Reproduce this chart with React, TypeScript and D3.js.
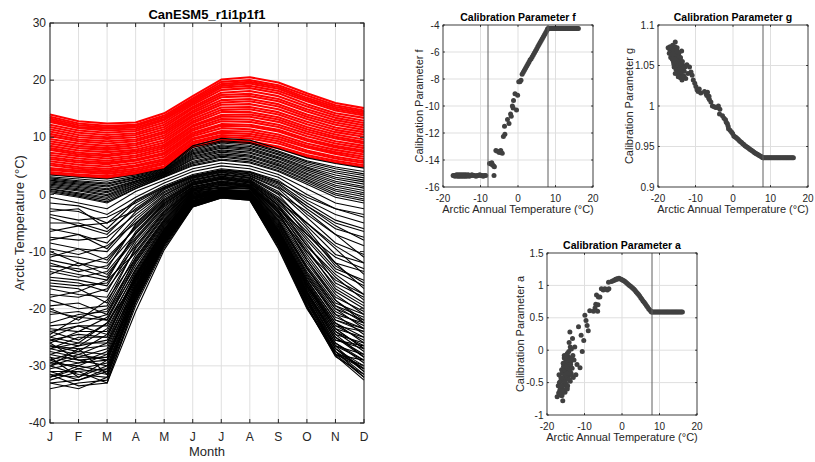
import React from "react";
import * as d3 from "d3";

// month axis of the left panel
const months = ["J", "F", "M", "A", "M", "J", "J", "A", "S", "O", "N", "D"];
const tempTicks = [-40, -30, -20, -10, 0, 10, 20, 30];
const annualTicks = [-20, -10, 0, 10, 20];

// monthly climatologies, warm members (red)
const redLines: number[][] = [
  [3.6, 3.2, 2.9, 3.6, 4.6, 8.3, 9.3, 9.0, 8.1, 6.6, 5.6, 4.8],
  [3.9, 3.5, 3.2, 3.9, 4.9, 8.6, 9.6, 9.3, 8.4, 6.9, 5.9, 5.1],
  [4.3, 3.9, 3.6, 4.2, 5.3, 8.9, 10.1, 9.8, 8.9, 7.4, 6.3, 5.5],
  [4.6, 4.2, 3.9, 4.5, 5.6, 9.2, 10.4, 10.2, 9.3, 7.7, 6.6, 5.8],
  [5.1, 4.5, 4.2, 4.9, 5.9, 9.6, 10.8, 10.6, 9.7, 8.2, 7.1, 6.2],
  [5.4, 4.8, 4.5, 5.1, 6.2, 9.8, 11.1, 11.0, 10.1, 8.5, 7.4, 6.6],
  [5.8, 5.2, 4.9, 5.5, 6.6, 10.2, 11.6, 11.4, 10.5, 8.9, 7.8, 7.0],
  [6.2, 5.6, 5.3, 5.9, 7.0, 10.5, 12.0, 11.9, 11.0, 9.4, 8.2, 7.4],
  [6.5, 5.9, 5.6, 6.1, 7.3, 10.8, 12.3, 12.2, 11.3, 9.7, 8.5, 7.7],
  [6.9, 6.3, 5.9, 6.5, 7.7, 11.2, 12.8, 12.7, 11.8, 10.2, 8.9, 8.1],
  [7.3, 6.7, 6.3, 6.8, 8.1, 11.5, 13.2, 13.1, 12.2, 10.6, 9.3, 8.5],
  [7.8, 7.0, 6.7, 7.2, 8.4, 11.9, 13.6, 13.6, 12.7, 11.0, 9.8, 8.9],
  [8.1, 7.3, 7.0, 7.5, 8.7, 12.1, 13.9, 14.0, 13.1, 11.4, 10.1, 9.2],
  [8.5, 7.7, 7.4, 7.8, 9.1, 12.5, 14.4, 14.4, 13.5, 11.8, 10.5, 9.6],
  [8.9, 8.1, 7.8, 8.2, 9.5, 12.8, 14.8, 14.9, 14.0, 12.3, 10.9, 10.1],
  [9.3, 8.5, 8.1, 8.6, 9.9, 13.2, 15.2, 15.3, 14.4, 12.7, 11.3, 10.5],
  [9.7, 8.9, 8.5, 8.9, 10.3, 13.6, 15.7, 15.8, 14.9, 13.2, 11.7, 10.9],
  [10.2, 9.3, 8.9, 9.3, 10.7, 13.9, 16.1, 16.3, 15.4, 13.6, 12.2, 11.3],
  [10.6, 9.6, 9.3, 9.6, 11.0, 14.3, 16.5, 16.7, 15.8, 14.0, 12.6, 11.7],
  [11.0, 10.0, 9.7, 10.0, 11.4, 14.6, 17.0, 17.2, 16.3, 14.5, 13.0, 12.1],
  [11.4, 10.4, 10.0, 10.4, 11.8, 15.0, 17.4, 17.6, 16.7, 14.9, 13.4, 12.5],
  [11.8, 10.8, 10.4, 10.7, 12.2, 15.3, 17.8, 18.1, 17.2, 15.4, 13.8, 12.9],
  [12.2, 11.2, 10.8, 11.1, 12.6, 15.7, 18.3, 18.6, 17.7, 15.8, 14.2, 13.4],
  [12.7, 11.6, 11.2, 11.4, 13.0, 16.0, 18.7, 19.0, 18.1, 16.3, 14.7, 13.8],
  [13.0, 11.8, 11.5, 11.7, 13.2, 16.3, 19.0, 19.4, 18.5, 16.6, 15.0, 14.1],
  [13.3, 12.1, 11.7, 12.0, 13.5, 16.6, 19.3, 19.7, 18.8, 16.9, 15.3, 14.4],
  [13.6, 12.4, 12.0, 12.2, 13.8, 16.8, 19.7, 20.0, 19.1, 17.3, 15.6, 14.7],
  [14.0, 12.8, 12.4, 12.6, 14.2, 17.2, 20.1, 20.5, 19.6, 17.7, 16.0, 15.1],
];

// black members just below the red band
const blackUpper: number[][] = [
  [0.3, -0.5, -1.5, 1.0, 3.0, 5.0, 6.0, 5.5, 4.0, 1.8, -0.5, -1.5],
  [0.5, -0.3, -1.3, 1.1, 3.1, 5.2, 6.2, 5.7, 4.2, 2.1, -0.1, -1.1],
  [0.7, -0.1, -1.0, 1.3, 3.2, 5.4, 6.5, 6.0, 4.5, 2.4, 0.2, -0.8],
  [0.9, 0.1, -0.7, 1.4, 3.3, 5.6, 6.7, 6.2, 4.7, 2.6, 0.6, -0.4],
  [1.0, 0.3, -0.5, 1.6, 3.4, 5.8, 6.9, 6.5, 5.0, 2.9, 0.9, 0.0],
  [1.2, 0.6, -0.2, 1.7, 3.5, 6.1, 7.1, 6.7, 5.2, 3.2, 1.3, 0.3],
  [1.4, 0.8, 0.0, 1.9, 3.5, 6.3, 7.4, 6.9, 5.4, 3.5, 1.6, 0.7],
  [1.6, 1.0, 0.3, 2.0, 3.6, 6.5, 7.6, 7.2, 5.7, 3.7, 2.0, 1.1],
  [1.8, 1.2, 0.5, 2.2, 3.7, 6.7, 7.8, 7.4, 5.9, 4.0, 2.3, 1.4],
  [2.0, 1.4, 0.8, 2.3, 3.8, 6.9, 8.1, 7.7, 6.2, 4.3, 2.7, 1.8],
  [2.2, 1.6, 1.0, 2.4, 3.9, 7.1, 8.3, 7.9, 6.4, 4.6, 3.0, 2.2],
  [2.4, 1.8, 1.3, 2.6, 4.0, 7.3, 8.5, 8.1, 6.6, 4.8, 3.4, 2.5],
  [2.5, 2.0, 1.5, 2.7, 4.1, 7.5, 8.7, 8.4, 6.9, 5.1, 3.8, 2.9],
  [2.7, 2.2, 1.8, 2.9, 4.2, 7.7, 9.0, 8.6, 7.1, 5.4, 4.1, 3.3],
  [2.9, 2.4, 2.0, 3.0, 4.3, 7.9, 9.2, 8.9, 7.4, 5.7, 4.5, 3.6],
  [3.1, 2.7, 2.3, 3.2, 4.4, 8.2, 9.4, 9.1, 7.6, 5.9, 4.8, 4.0],
  [3.4, 3.0, 2.7, 3.4, 4.5, 8.5, 9.8, 9.5, 8.0, 6.4, 5.4, 4.6],
];

// black members with intermediate winters
const blackMid: number[][] = [
  [-0.5, -1.5, -2.5, 0.5, 2.5, 4.5, 5.5, 5.0, 3.5, 1.0, -1.5, -2.5],
  [-1.5, -2.0, -3.5, -0.5, 2.0, 4.0, 5.0, 4.5, 3.0, 0.0, -2.5, -3.5],
  [-2.5, -3.0, -5.0, -1.0, 1.5, 3.5, 4.5, 4.0, 2.5, -1.0, -3.5, -5.0],
  [-3.0, -2.5, -6.0, -1.2, 1.3, 3.3, 4.3, 3.9, 2.2, -0.5, -2.5, -4.0],
  [-3.5, -4.5, -4.0, -1.5, 1.2, 3.2, 4.2, 3.8, 2.0, -1.5, -4.5, -6.0],
  [-4.0, -5.5, -7.0, -2.0, 1.1, 3.1, 4.1, 3.6, 1.8, -2.0, -5.0, -6.5],
  [-5.0, -5.0, -6.5, -2.5, 1.0, 3.0, 4.0, 3.5, 1.5, -2.5, -6.0, -7.5],
  [-6.5, -5.5, -5.0, -2.8, 0.8, 2.9, 3.9, 3.3, 1.2, -2.0, -5.5, -8.0],
  [-6.0, -7.0, -8.5, -3.0, 0.5, 2.8, 3.8, 3.2, 1.0, -3.5, -7.0, -9.0],
  [-7.5, -8.0, -7.5, -3.5, 0.3, 2.6, 3.6, 3.0, 0.5, -4.0, -8.5, -10.5],
  [-8.0, -7.0, -9.5, -4.0, 0.0, 2.5, 3.5, 2.9, 0.2, -3.0, -7.0, -11.0],
  [-8.5, -9.5, -10.0, -4.5, -0.2, 2.4, 3.4, 2.8, 0.0, -5.5, -10.5, -12.0],
  [-9.5, -10.5, -9.0, -5.0, -0.5, 2.2, 3.2, 2.6, -0.5, -5.0, -9.5, -14.0],
  [-10.0, -12.0, -13.0, -5.2, -0.8, 2.1, 3.1, 2.5, -0.8, -6.0, -12.0, -13.5],
  [-10.5, -11.0, -12.0, -5.5, -1.0, 2.0, 3.0, 2.4, -1.0, -7.0, -11.0, -13.0],
  [-11.0, -9.5, -11.5, -5.8, -1.1, 1.9, 2.9, 2.3, -1.2, -5.0, -9.0, -12.0],
  [-11.5, -12.5, -11.0, -6.0, -1.3, 1.8, 2.8, 2.2, -1.5, -6.5, -12.5, -15.5],
  [-12.0, -13.5, -12.5, -6.8, -1.6, 1.7, 2.6, 2.0, -2.0, -9.0, -14.0, -17.5],
  [-12.5, -13.0, -14.5, -7.0, -1.8, 1.6, 2.6, 2.0, -2.0, -8.0, -13.5, -16.0],
  [-13.0, -14.0, -15.0, -6.5, -1.5, 1.7, 2.7, 2.1, -1.8, -7.5, -13.0, -15.0],
  [-13.5, -14.5, -13.5, -7.5, -2.0, 1.4, 2.4, 1.8, -2.3, -8.5, -15.5, -18.0],
  [-14.0, -12.0, -14.0, -7.8, -2.2, 1.4, 2.3, 1.7, -2.5, -7.0, -12.0, -16.5],
  [-14.5, -15.0, -16.0, -8.0, -2.5, 1.3, 2.2, 1.6, -2.7, -9.0, -14.5, -18.5],
  [-15.0, -15.5, -17.0, -8.5, -2.8, 1.2, 2.1, 1.5, -2.8, -10.0, -15.0, -17.5],
  [-15.5, -16.0, -15.5, -9.0, -3.0, 1.1, 2.0, 1.5, -3.0, -9.5, -16.5, -19.5],
  [-16.0, -16.5, -19.0, -9.2, -3.1, 1.0, 1.9, 1.4, -3.1, -11.5, -18.5, -22.5],
  [-16.5, -17.5, -18.0, -9.5, -3.3, 1.0, 1.8, 1.4, -3.3, -10.5, -17.0, -20.0],
  [-17.5, -18.0, -16.5, -10.0, -3.6, 0.9, 1.6, 1.3, -3.6, -11.0, -17.5, -21.0],
  [-18.0, -17.0, -15.0, -10.2, -3.8, 0.9, 1.6, 1.3, -3.8, -10.0, -16.0, -19.0],
  [-18.5, -20.0, -19.5, -10.5, -4.0, 0.8, 1.5, 1.2, -4.0, -11.5, -18.0, -20.5],
  [-19.5, -19.0, -21.0, -11.0, -4.3, 0.7, 1.3, 1.1, -4.3, -12.0, -18.5, -22.0],
  [-20.0, -22.0, -18.5, -11.2, -4.5, 0.6, 1.2, 1.0, -4.5, -12.8, -19.5, -22.5],
  [-20.5, -21.5, -20.0, -11.5, -4.6, 0.6, 1.2, 1.0, -4.6, -12.5, -19.0, -21.0],
  [-21.0, -20.5, -22.0, -11.8, -4.8, 0.5, 1.1, 0.9, -4.8, -13.0, -20.0, -23.5],
];

// black members with cold winters
const blackCold: number[][] = [
  [-22.5, -21.0, -20.5, -12.0, -5.0, 0.4, 0.9, 0.7, -5.0, -13.0, -19.5, -21.5],
  [-23.0, -22.5, -21.0, -12.5, -5.2, 0.3, 0.8, 0.6, -5.2, -13.5, -20.0, -22.0],
  [-24.5, -21.5, -22.0, -13.0, -5.4, 0.2, 0.8, 0.5, -5.4, -13.8, -20.5, -23.0],
  [-23.5, -24.0, -21.5, -13.2, -5.6, 0.1, 0.7, 0.5, -5.6, -14.0, -21.0, -22.5],
  [-24.0, -23.0, -24.5, -14.2, -6.1, -0.2, 0.6, 0.3, -6.3, -15.0, -22.0, -23.5],
  [-25.0, -23.0, -23.0, -13.5, -5.8, 0.0, 0.7, 0.4, -5.8, -14.3, -21.5, -23.5],
  [-24.0, -25.5, -22.5, -13.8, -6.0, -0.1, 0.6, 0.4, -6.0, -14.6, -21.0, -24.5],
  [-26.0, -24.0, -24.0, -14.0, -6.2, -0.2, 0.6, 0.3, -6.2, -14.9, -22.0, -24.0],
  [-25.5, -24.5, -25.0, -14.6, -6.5, -0.4, 0.5, 0.2, -6.5, -15.5, -23.5, -27.0],
  [-25.5, -26.5, -23.5, -14.3, -6.3, -0.3, 0.5, 0.3, -6.3, -15.2, -22.5, -25.0],
  [-27.0, -25.0, -25.0, -14.5, -6.5, -0.4, 0.5, 0.2, -6.5, -15.4, -23.0, -25.5],
  [-26.5, -27.5, -24.5, -14.8, -6.6, -0.5, 0.4, 0.2, -6.6, -15.6, -22.5, -26.0],
  [-27.0, -26.0, -22.5, -15.1, -6.8, -0.6, 0.4, 0.1, -6.8, -16.0, -23.0, -24.0],
  [-25.0, -26.0, -26.0, -15.0, -6.8, -0.6, 0.4, 0.1, -6.8, -15.8, -23.5, -25.0],
  [-28.0, -26.5, -25.5, -15.2, -6.9, -0.7, 0.3, 0.1, -6.9, -16.0, -24.0, -26.5],
  [-27.5, -28.5, -27.0, -15.4, -7.0, -0.8, 0.3, 0.0, -7.0, -16.2, -23.5, -27.0],
  [-26.5, -27.0, -26.5, -15.6, -7.1, -0.8, 0.2, 0.0, -7.1, -16.4, -24.5, -26.0],
  [-29.0, -27.5, -28.0, -15.8, -7.2, -0.9, 0.2, -0.1, -7.2, -16.6, -24.0, -27.5],
  [-28.5, -29.5, -27.5, -16.0, -7.3, -1.0, 0.1, -0.1, -7.3, -16.8, -25.0, -28.0],
  [-27.0, -28.0, -29.0, -16.2, -7.4, -1.1, 0.1, -0.2, -7.4, -17.0, -25.5, -27.0],
  [-26.0, -29.0, -28.5, -16.3, -7.4, -1.1, 0.1, -0.2, -7.4, -17.1, -24.5, -28.5],
  [-30.0, -28.5, -28.5, -16.4, -7.5, -1.2, 0.0, -0.2, -7.5, -17.2, -25.0, -28.5],
  [-29.5, -28.0, -26.0, -16.5, -7.5, -1.2, 0.0, -0.3, -7.5, -17.3, -25.5, -26.5],
  [-29.0, -30.5, -29.5, -16.6, -7.6, -1.2, 0.0, -0.3, -7.6, -17.4, -26.0, -29.0],
  [-28.0, -29.0, -30.0, -16.8, -7.7, -1.3, -0.1, -0.3, -7.7, -17.6, -26.5, -28.0],
  [-30.5, -29.5, -29.0, -17.0, -7.8, -1.4, -0.1, -0.4, -7.8, -17.8, -26.0, -29.5],
  [-28.5, -32.0, -29.0, -17.1, -7.9, -1.4, -0.2, -0.4, -7.9, -18.1, -28.0, -29.0],
  [-31.0, -31.0, -30.5, -17.2, -7.9, -1.5, -0.2, -0.4, -7.9, -18.0, -27.0, -30.0],
  [-29.5, -30.0, -31.0, -17.4, -8.0, -1.6, -0.2, -0.5, -8.0, -18.2, -26.5, -29.0],
  [-30.0, -27.0, -31.5, -17.5, -8.0, -1.5, -0.2, -0.5, -8.0, -18.3, -27.0, -30.5],
  [-31.5, -32.0, -30.0, -17.6, -8.1, -1.6, -0.3, -0.5, -8.1, -18.4, -27.5, -30.5],
  [-30.0, -31.5, -32.0, -17.8, -8.2, -1.7, -0.3, -0.6, -8.2, -18.6, -27.0, -31.0],
  [-32.0, -30.5, -31.5, -18.0, -8.3, -1.8, -0.4, -0.6, -8.3, -18.8, -28.0, -30.0],
  [-32.0, -30.0, -28.0, -18.2, -8.4, -1.8, -0.4, -0.7, -8.4, -18.9, -26.5, -31.0],
  [-31.0, -32.5, -30.5, -18.3, -8.5, -1.9, -0.4, -0.7, -8.5, -19.0, -27.5, -31.5],
  [-32.5, -31.0, -33.0, -18.6, -8.7, -2.0, -0.5, -0.8, -8.7, -19.3, -28.0, -32.0],
  [-33.0, -32.5, -31.0, -18.8, -8.8, -2.0, -0.5, -0.8, -8.8, -19.5, -28.0, -30.5],
  [-33.0, -34.0, -32.0, -19.0, -9.0, -2.1, -0.5, -0.9, -9.0, -19.6, -28.4, -31.5],
  [-34.0, -33.0, -32.5, -19.5, -9.3, -2.2, -0.6, -1.0, -9.3, -19.8, -28.2, -32.5],
  [-31.5, -33.5, -33.0, -20.5, -9.7, -2.2, -0.6, -1.0, -9.5, -20.0, -27.5, -32.0],
];

// ensemble members: annual temperature and the three calibration parameters
const memberT = [
  -17.3, -17.0, -16.8, -16.6, -16.4, -16.2, -16.1, -16.0, -15.9, -15.8,
  -15.7, -15.6, -15.5, -15.4, -15.3, -15.2, -15.1, -15.0, -14.9, -14.8,
  -14.7, -14.6, -14.5, -14.4, -14.3, -14.2, -14.1, -14.0, -13.9, -13.8,
  -13.7, -13.6, -13.5, -13.3, -13.1, -13.0, -12.8, -12.6, -12.3, -12.0,
  -11.6, -11.2, -10.9, -10.6, -10.2, -9.9, -9.6, -9.3, -9.0, -8.6,
  -7.6, -7.2, -7.0, -6.8, -6.5, -6.3, -6.4, -5.9, -5.5, -5.0,
  -4.6, -4.2, -3.9, -3.5, -3.6, -2.8, -2.4, -2.0, -1.8, -1.5,
  -1.3, -1.2, -0.8, -0.4, -0.1,
  0.2, 0.5, 0.8, 1.1, 1.4, 1.7, 2.0, 2.3, 2.6, 2.9,
  3.2, 3.5, 3.8, 4.1, 4.4, 4.7, 5.0, 5.3, 5.6, 5.9,
  6.2, 6.5, 6.8, 7.1, 7.4, 7.7, 7.9,
  8.0, 8.3, 8.6, 8.9, 9.2, 9.5, 9.8, 10.1, 10.4, 10.7,
  11.0, 11.3, 11.6, 11.9, 12.2, 12.5, 12.8, 13.1, 13.4, 13.7,
  14.0, 14.3, 14.6, 14.9, 15.2, 15.5, 15.8, 16.1,
  -16.9, -16.7, -16.5, -16.3, -16.0, -15.9, -15.8, -15.6, -15.5, -15.4,
  -15.3, -15.2, -15.1, -15.0, -14.9, -14.8, -14.7, -14.6, -14.5, -14.4,
  -14.3, -14.2, -14.1, -14.0, -13.9, -13.8, -13.7, -13.5, -13.4, -13.2,
  -15.7, -16.1, -14.9, -15.4, -14.6,
];

const paramF = [
  -15.15, -15.15, -15.2, -15.15, -15.1, -15.15, -15.2, -15.15, -15.1, -15.15,
  -15.2, -15.15, -15.15, -15.1, -15.15, -15.2, -15.15, -15.15, -15.1, -15.15,
  -15.2, -15.15, -15.15, -15.1, -15.15, -15.2, -15.15, -15.15, -15.1, -15.15,
  -15.2, -15.15, -15.15, -15.1, -15.15, -15.2, -15.15, -15.15, -15.1, -15.15,
  -15.15, -15.2, -15.15, -15.15, -15.1, -15.15, -15.15, -15.2, -15.15, -15.15,
  -14.25, -14.3, -14.2, -14.35, -14.45, -14.5, -15.15, -13.3, -13.35, -13.45,
  -13.3, -13.5, -12.25, -12.1, -11.5, -11.0, -11.3, -10.6, -10.75, -10.0,
  -10.15, -9.6, -9.1, -10.3, -9.2,
  -8.2, -8.2, -8.1, -7.65, -7.5, -7.35, -7.2, -7.05, -6.9, -6.75,
  -6.6, -6.5, -6.35, -6.2, -6.05, -5.9, -5.75, -5.6, -5.45, -5.3,
  -5.15, -5.0, -4.85, -4.7, -4.55, -4.4, -4.3,
  -4.25, -4.25, -4.25, -4.25, -4.25, -4.25, -4.25, -4.25, -4.25, -4.25,
  -4.25, -4.25, -4.25, -4.25, -4.25, -4.25, -4.25, -4.25, -4.25, -4.25,
  -4.25, -4.25, -4.25, -4.25, -4.25, -4.25, -4.25, -4.25,
  -15.15, -15.15, -15.15, -15.15, -15.15, -15.15, -15.15, -15.15, -15.15, -15.15,
  -15.15, -15.15, -15.15, -15.15, -15.15, -15.15, -15.15, -15.15, -15.15, -15.15,
  -15.15, -15.15, -15.15, -15.15, -15.15, -15.15, -15.15, -15.15, -15.15, -15.15,
  -15.15, -15.15, -15.15, -15.15, -15.15,
];

const paramG = [
  1.072, 1.065, 1.073, 1.06, 1.068, 1.058, 1.075, 1.062, 1.055, 1.07,
  1.048, 1.064, 1.052, 1.079, 1.058, 1.045, 1.066, 1.05, 1.06, 1.042,
  1.055, 1.047, 1.063, 1.038, 1.052, 1.044, 1.058, 1.035, 1.049, 1.04,
  1.068, 1.032, 1.046, 1.05, 1.037, 1.043, 1.048, 1.034, 1.051, 1.04,
  1.048, 1.042, 1.038, 1.032, 1.028, 1.024, 1.02, 1.018, 1.021, 1.016,
  1.018, 1.015, 1.013, 1.017, 1.01, 1.008, 1.012, 1.005, 1.0, 0.999,
  0.998, 0.998, 1.0, 0.996, 0.99, 0.988, 0.985, 0.983, 0.98, 0.978,
  0.975, 0.972, 0.97, 0.968, 0.966,
  0.963, 0.962, 0.961, 0.96, 0.9585, 0.957, 0.956, 0.955, 0.9535, 0.9525,
  0.951, 0.95, 0.949, 0.948, 0.947, 0.946, 0.945, 0.944, 0.943, 0.942,
  0.941, 0.9405, 0.9395, 0.9385, 0.938, 0.937, 0.9365,
  0.936, 0.936, 0.936, 0.936, 0.936, 0.936, 0.936, 0.936, 0.936, 0.936,
  0.936, 0.936, 0.936, 0.936, 0.936, 0.936, 0.936, 0.936, 0.936, 0.936,
  0.936, 0.936, 0.936, 0.936, 0.936, 0.936, 0.936, 0.936,
  1.07, 1.066, 1.062, 1.071, 1.057, 1.068, 1.052, 1.06, 1.073, 1.05,
  1.064, 1.055, 1.047, 1.069, 1.053, 1.061, 1.044, 1.058, 1.05, 1.066,
  1.041, 1.056, 1.046, 1.06, 1.038, 1.052, 1.045, 1.055, 1.036, 1.047,
  1.058, 1.064, 1.072, 1.04, 1.036,
];

const paramA = [
  -0.72, -0.55, -0.38, -0.62, -0.48, -0.7, -0.3, -0.45, -0.6, -0.78,
  -0.2, -0.35, -0.52, -0.12, -0.4, -0.65, -0.28, -0.15, -0.45, -0.32,
  -0.58, -0.05, -0.22, -0.4, -0.1, -0.3, 0.12, -0.25, 0.28, -0.48,
  -0.18, -0.35, 0.02, -0.28, -0.08, -0.42, -0.15, 0.05, -0.38, -0.22,
  0.36, -0.27, 0.23, -0.02, 0.15, 0.54, 0.46, 0.38, 0.3, 0.61,
  0.6, 0.65, 0.71, 0.85, 0.6, 0.82, 0.7, 0.82, 0.95, 0.93,
  0.95, 0.94, 0.93, 0.95, 1.05, 1.06, 1.07, 1.08, 1.09, 1.1,
  1.1, 1.1, 1.11, 1.1, 1.09,
  1.08, 1.07, 1.06, 1.045, 1.03, 1.015, 1.0, 0.985, 0.97, 0.955,
  0.94, 0.92, 0.9, 0.88, 0.86, 0.835, 0.81, 0.785, 0.76, 0.74,
  0.715, 0.69, 0.665, 0.64, 0.62, 0.6, 0.59,
  0.59, 0.59, 0.59, 0.59, 0.59, 0.59, 0.59, 0.59, 0.59, 0.59,
  0.59, 0.59, 0.59, 0.59, 0.59, 0.59, 0.59, 0.59, 0.59, 0.59,
  0.59, 0.59, 0.59, 0.59, 0.59, 0.59, 0.59, 0.59,
  -0.66, -0.5, -0.58, -0.42, -0.7, -0.35, -0.55, -0.25, -0.45, -0.62,
  -0.3, -0.48, -0.2, -0.38, -0.52, -0.12, -0.42, -0.28, -0.55, -0.18,
  -0.35, -0.02, -0.45, -0.15, -0.3, 0.05, -0.22, -0.38, -0.12, 0.18,
  -0.65, -0.55, -0.25, -0.08, -0.6,
];

const fTicks = [-16, -14, -12, -10, -8, -6, -4];
const gTicks = [0.9, 0.95, 1, 1.05, 1.1];
const aTicks = [-1, -0.5, 0, 0.5, 1, 1.5];

const font = "'Liberation Sans', Arial, Helvetica, sans-serif";
const axisColor = "#262626";
const gridColor = "#dfdfdf";
const dotColor = "#404040";

function LinePanel() {
  const left = 50, right = 364, top = 23, bottom = 423;
  const x = d3.scaleLinear().domain([0, 11]).range([left, right]);
  const y = d3.scaleLinear().domain([-40, 30]).range([bottom, top]);
  const line = d3.line<number>().x((_, i) => x(i)).y((d) => y(d));
  const tl = 4;
  const black = [...blackCold, ...blackMid, ...blackUpper];
  return (
    <g>
      {months.map((_, i) => (
        <line key={"gx" + i} x1={x(i)} x2={x(i)} y1={top} y2={bottom} stroke={gridColor} />
      ))}
      {tempTicks.map((t) => (
        <line key={"gy" + t} x1={left} x2={right} y1={y(t)} y2={y(t)} stroke={gridColor} />
      ))}
      {redLines.map((d, i) => (
        <path key={"r" + i} d={line(d) || ""} fill="none" stroke="#ff0000" strokeWidth={2.1} strokeLinejoin="round" />
      ))}
      {black.map((d, i) => (
        <path key={"b" + i} d={line(d) || ""} fill="none" stroke="#000" strokeWidth={1.1} />
      ))}
      <rect x={left} y={top} width={right - left} height={bottom - top} fill="none" stroke={axisColor} strokeWidth={1} />
      {months.map((m, i) => (
        <g key={"tx" + i}>
          <line x1={x(i)} x2={x(i)} y1={bottom} y2={bottom - tl} stroke={axisColor} />
          <line x1={x(i)} x2={x(i)} y1={top} y2={top + tl} stroke={axisColor} />
          <text x={x(i)} y={bottom + 18} textAnchor="middle" fontSize={12} fill={axisColor}>{m}</text>
        </g>
      ))}
      {tempTicks.map((t) => (
        <g key={"ty" + t}>
          <line x1={left} x2={left + tl} y1={y(t)} y2={y(t)} stroke={axisColor} />
          <line x1={right} x2={right - tl} y1={y(t)} y2={y(t)} stroke={axisColor} />
          <text x={left - 4} y={y(t)} dy="0.35em" textAnchor="end" fontSize={12} fill={axisColor}>{String(t)}</text>
        </g>
      ))}
      <text x={(left + right) / 2} y={18.5} textAnchor="middle" fontSize={13} fontWeight="bold" fill="#000">CanESM5_r1i1p1f1</text>
      <text x={(left + right) / 2} y={456} textAnchor="middle" fontSize={13} fill={axisColor}>Month</text>
      <text transform={`translate(24,${(top + bottom) / 2}) rotate(-90)`} textAnchor="middle" fontSize={13} fill={axisColor}>
        Arctic Temperature (°C)
      </text>
    </g>
  );
}

type PanelProps = {
  left: number;
  top: number;
  yDomain: [number, number];
  yTicks: number[];
  values: number[];
  title: string;
  ylabel: string;
  ylabelX: number;
  vlines: number[];
};

function ScatterPanel({ left, top, yDomain, yTicks, values, title, ylabel, ylabelX, vlines }: PanelProps) {
  const width = 150, height = 162;
  const right = left + width, bottom = top + height;
  const x = d3.scaleLinear().domain([-20, 20]).range([left, right]);
  const y = d3.scaleLinear().domain(yDomain).range([bottom, top]);
  const tl = 1.8;
  return (
    <g>
      {annualTicks.map((t) => (
        <line key={"gx" + t} x1={x(t)} x2={x(t)} y1={top} y2={bottom} stroke={gridColor} />
      ))}
      {yTicks.map((t) => (
        <line key={"gy" + t} x1={left} x2={right} y1={y(t)} y2={y(t)} stroke={gridColor} />
      ))}
      {values.map((v, i) => (
        <circle key={i} cx={x(memberT[i])} cy={y(v)} r={2.5} fill={dotColor} />
      ))}
      {vlines.map((v) => (
        <line key={"v" + v} x1={x(v)} x2={x(v)} y1={top} y2={bottom} stroke="#5f5f5f" strokeWidth={1} />
      ))}
      <rect x={left} y={top} width={width} height={height} fill="none" stroke={axisColor} strokeWidth={0.8} />
      {annualTicks.map((t) => (
        <g key={"tx" + t}>
          <line x1={x(t)} x2={x(t)} y1={bottom} y2={bottom - tl} stroke={axisColor} />
          <line x1={x(t)} x2={x(t)} y1={top} y2={top + tl} stroke={axisColor} />
          <text x={x(t)} y={bottom + 15} textAnchor="middle" fontSize={10} fill={axisColor}>{String(t)}</text>
        </g>
      ))}
      {yTicks.map((t) => (
        <g key={"ty" + t}>
          <line x1={left} x2={left + tl} y1={y(t)} y2={y(t)} stroke={axisColor} />
          <line x1={right} x2={right - tl} y1={y(t)} y2={y(t)} stroke={axisColor} />
          <text x={left - 3.5} y={y(t)} dy="0.35em" textAnchor="end" fontSize={10} fill={axisColor}>{String(t)}</text>
        </g>
      ))}
      <text x={(left + right) / 2} y={top - 4.5} textAnchor="middle" fontSize={10.5} fontWeight="bold" fill="#000">{title}</text>
      <text x={(left + right) / 2} y={bottom + 25.5} textAnchor="middle" fontSize={11} fill={axisColor}>
        Arctic Annual Temperature (°C)
      </text>
      <text transform={`translate(${ylabelX},${(top + bottom) / 2}) rotate(-90)`} textAnchor="middle" fontSize={11} fill={axisColor}>
        {ylabel}
      </text>
    </g>
  );
}

export default function App() {
  return (
    <svg width={815} height={462} style={{ position: "absolute", left: 0, top: 0, background: "#fff" }} fontFamily={font}>
      <rect width={815} height={462} fill="#fff" />
      <LinePanel />
      <ScatterPanel left={443} top={25} yDomain={[-16, -4]} yTicks={fTicks} values={paramF}
        title="Calibration Parameter f" ylabel="Calibration Parameter f" ylabelX={423} vlines={[-8, 8]} />
      <ScatterPanel left={658} top={25} yDomain={[0.9, 1.1]} yTicks={gTicks} values={paramG}
        title="Calibration Parameter g" ylabel="Calibration Parameter g" ylabelX={633} vlines={[8]} />
      <ScatterPanel left={547} top={253} yDomain={[-1, 1.5]} yTicks={aTicks} values={paramA}
        title="Calibration Parameter a" ylabel="Calibration Parameter a" ylabelX={524} vlines={[8]} />
    </svg>
  );
}
